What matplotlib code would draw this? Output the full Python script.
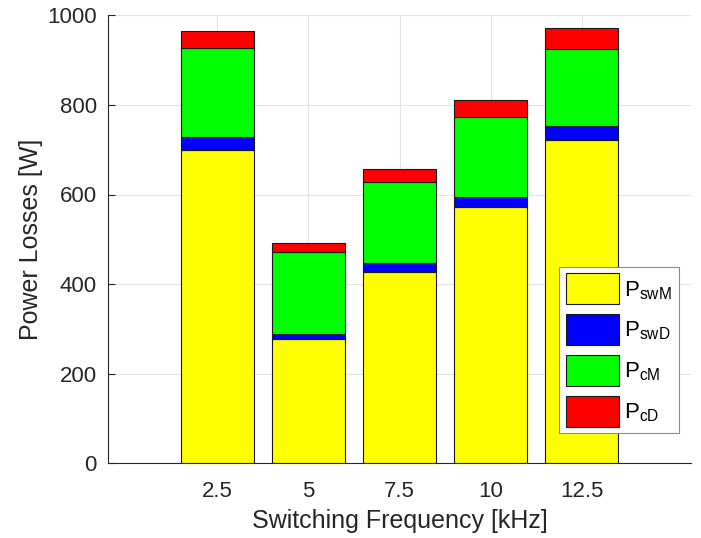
import numpy as np
import matplotlib
matplotlib.use("Agg")
from matplotlib import pyplot as plt

plt.rcParams['font.family'] = ['Liberation Sans', 'DejaVu Sans']

# switching frequency [kHz] and loss components [W]
freq = [2.5, 5, 7.5, 10, 12.5]
freq_labels = ['2.5', '5', '7.5', '10', '12.5']
P_swM = [699, 277, 428, 571, 722]
P_swD = [29, 12, 18, 23, 31]
P_cM = [200, 183, 182, 178, 172]
P_cD = [37, 19, 28, 38, 47]

series = [P_swM, P_swD, P_cM, P_cD]
names = [r'$\mathregular{P_{swM}}$', r'$\mathregular{P_{swD}}$',
         r'$\mathregular{P_{cM}}$', r'$\mathregular{P_{cD}}$']
colors = ['#ffff00', '#0000ff', '#00ff00', '#ff0000']

txt = '#262626'

fig = plt.figure(figsize=(7.01, 5.38), dpi=100)
ax = fig.add_axes([108/701, 1-463.3/538, 583/701, 448/538])

bottom = np.zeros(len(freq))
for vals, name, c in zip(series, names, colors):
    ax.bar(freq, vals, width=2.0, bottom=bottom, color=c, edgecolor='#1a1a1a',
           linewidth=0.8, label=name, zorder=2)
    bottom += np.array(vals)

ax.set_xlim(-0.5, 15.5)
ax.set_ylim(0, 1000)
ax.set_xticks(freq)
ax.set_xticklabels(freq_labels)
ax.set_yticks(np.arange(0, 1001, 200))
ax.grid(True, color='#e3e3e3', linewidth=0.8, zorder=0)
ax.set_axisbelow(True)

for s in ['top', 'right']:
    ax.spines[s].set_visible(False)
for s in ['left', 'bottom']:
    ax.spines[s].set_color(txt)
    ax.spines[s].set_linewidth(0.8)

ax.tick_params(direction='in', length=5, width=0.8, colors=txt, labelsize=16,
               pad=8)
ax.tick_params(axis='x', pad=13)
ax.set_xlabel('Switching Frequency [kHz]', fontsize=18, color=txt, labelpad=5)
ax.set_ylabel('Power Losses [W]', fontsize=18, color=txt, labelpad=3)

leg = ax.legend(loc='lower right', bbox_to_anchor=(0.979, 0.067),
                borderaxespad=0, fontsize=16, handlelength=2.39,
                handleheight=1.77, labelspacing=0.44, handletextpad=0.25,
                borderpad=0.3, fancybox=False, framealpha=1)
leg.get_frame().set_edgecolor('#8c8c8c')
leg.get_frame().set_linewidth(0.8)
for t in leg.get_texts():
    t.set_color('black')

fig.savefig('out.png', dpi=100)
